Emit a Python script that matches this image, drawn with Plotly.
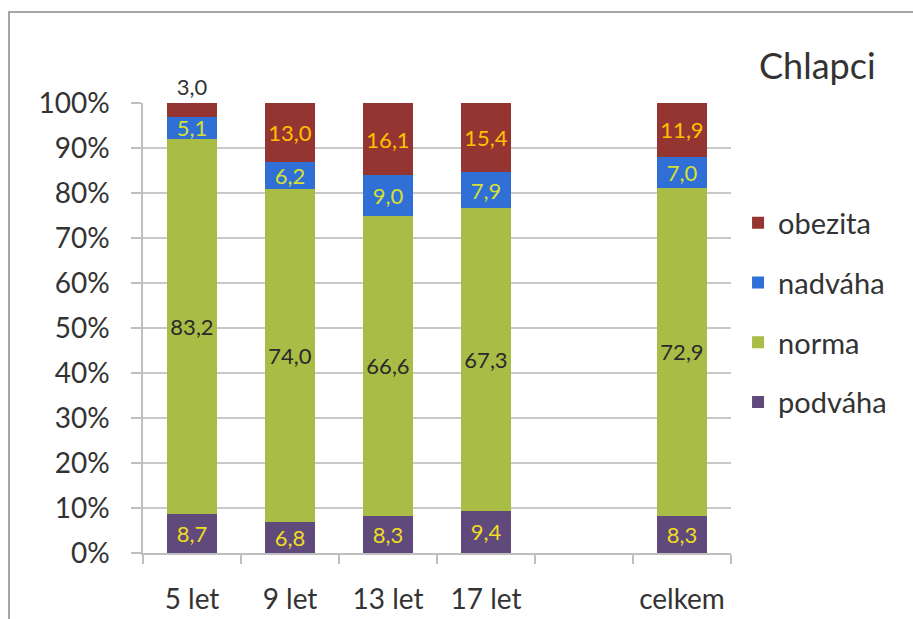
import plotly.graph_objects as go

categories = ["5 let", "9 let", "13 let", "17 let", " ", "celkem"]
podvaha = [8.7, 6.8, 8.3, 9.4, None, 8.3]
norma = [83.2, 74.0, 66.6, 67.3, None, 72.9]
nadvaha = [5.1, 6.2, 9.0, 7.9, None, 7.0]
obezita = [3.0, 13.0, 16.1, 15.4, None, 11.9]
y_ticks = [0, 10, 20, 30, 40, 50, 60, 70, 80, 90, 100]
y_tick_labels = ["0%", "10%", "20%", "30%", "40%", "50%", "60%", "70%", "80%", "90%", "100%"]

FONT = "Lato"
fig = go.Figure()

def add(name, vals, color, txtcolor, rank, position="inside"):
    fig.add_trace(go.Bar(
        name=name, x=categories, y=vals,
        customdata=vals,
        marker=dict(color=color, line=dict(width=0)),
        texttemplate="%{customdata:.1f}",
        textposition=position,
        insidetextanchor="middle",
        constraintext="none",
        textangle=0,
        textfont=dict(family=FONT, size=22, color=txtcolor),
        outsidetextfont=dict(family=FONT, size=22, color="#333333"),
        cliponaxis=False,
        legendgroup=name,
        legendrank=rank,
        hovertemplate=name + ": %{customdata:.1f}<extra></extra>",
    ))

add("podváha", podvaha, "#604A7B", "#EEDD22", 4)
add("norma", norma, "#A9BC45", "#2a2a2a", 3)
add("nadváha", nadvaha, "#2F6FD6", "#D6E030", 2)
add("obezita", obezita, "#953532", "#FFC000", 1, "auto")

fig.update_layout(
    barmode="stack",
    barnorm="percent",
    bargap=0.48,
    separators=", ",
    width=913, height=619,
    margin=dict(l=143, r=182, t=103, b=66, autoexpand=False),
    paper_bgcolor="white", plot_bgcolor="white",
    font=dict(family=FONT, color="#333333"),
    showlegend=True,
    legend=dict(
        x=1.012, xanchor="left", y=0.79, yanchor="top",
        traceorder="grouped", tracegroupgap=19,
        font=dict(family=FONT, size=29, color="#333333"),
        bgcolor="rgba(0,0,0,0)",
    ),
    xaxis=dict(
        type="category", categoryorder="array", categoryarray=categories,
        range=[-0.5, 5.5], tickson="boundaries", ticks="outside", ticklen=9,
        tickcolor="#BFBFBF", tickwidth=1.5, showgrid=False,
        showline=True, linecolor="#BFBFBF", linewidth=1.5,
        tickfont=dict(family=FONT, size=28, color="#333333"),
        ticklabelstandoff=21, automargin=False,
    ),
    yaxis=dict(
        range=[0, 100.001], tickvals=y_ticks, ticktext=y_tick_labels,
        ticks="outside", ticklen=10, tickcolor="#BFBFBF", tickwidth=1.5,
        showgrid=True, gridcolor="#C8C8C8", gridwidth=1.5,
        showline=True, linecolor="#BFBFBF", linewidth=1.5,
        zeroline=False,
        tickfont=dict(family=FONT, size=28, color="#333333"),
        ticklabelstandoff=16, automargin=False,
    ),
    annotations=[dict(
        text="Chlapci", xref="paper", yref="paper",
        x=(757 - 143) / 588, y=1 + (103 - 65) / 450,
        xanchor="left", yanchor="middle", showarrow=False,
        font=dict(family=FONT, size=36, color="#333333"),
    )],
    shapes=[dict(
        type="rect", xref="paper", yref="paper",
        x0=(9 - 143) / 588, x1=(918 - 143) / 588,
        y0=-(625 - 553) / 450, y1=1 + (103 - 12) / 450,
        line=dict(color="#A6A6A6", width=2), fillcolor="rgba(0,0,0,0)",
        layer="below",
    )],
)

fig.write_html("out.html")
